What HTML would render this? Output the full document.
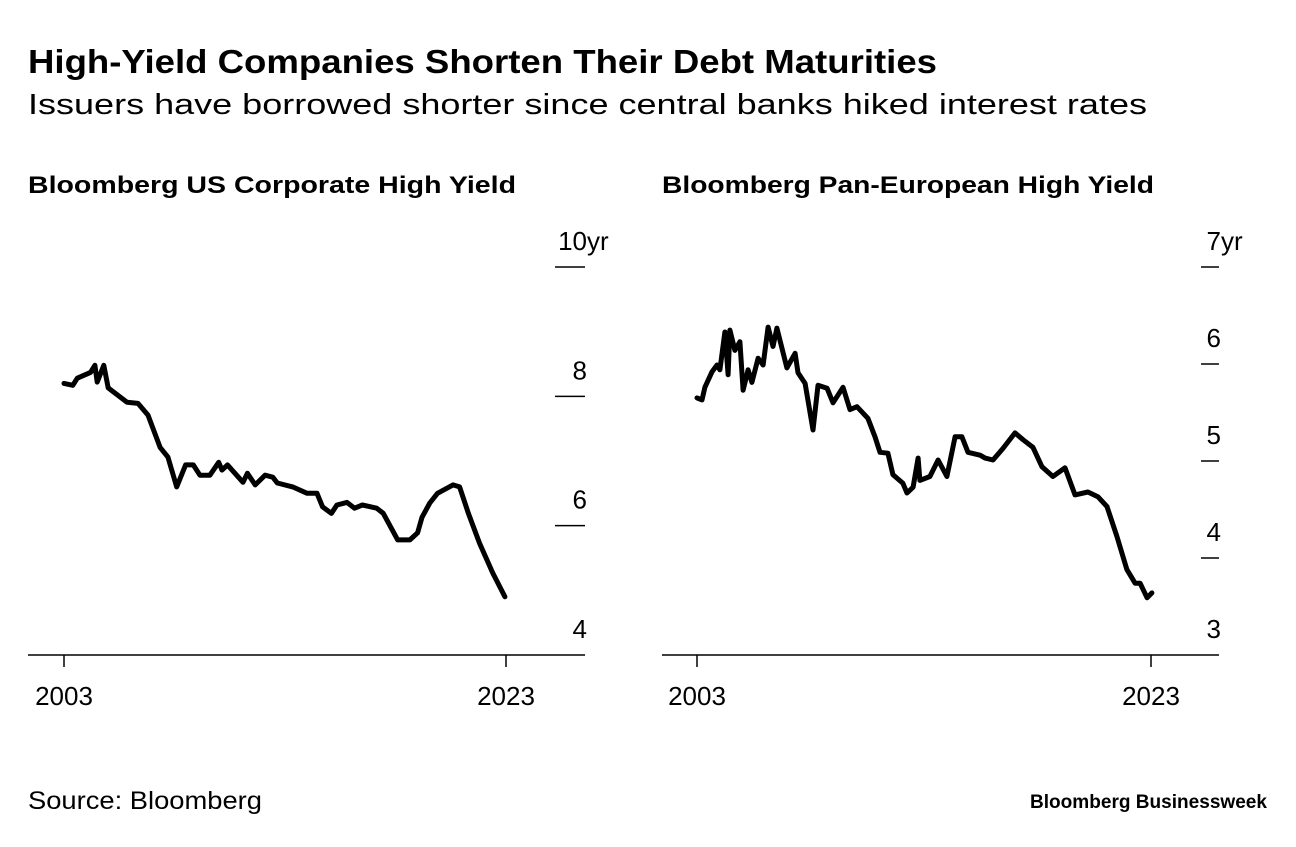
<!DOCTYPE html>
<html><head><meta charset="utf-8"><style>
body{margin:0;background:#fff;width:1296px;height:842px;overflow:hidden;font-family:"Liberation Sans",sans-serif;}
svg text{font-family:"Liberation Sans",sans-serif;}
</style></head><body>
<svg width="1296" height="842">
<text x="28" y="73" font-size="33" font-weight="bold" textLength="909" lengthAdjust="spacingAndGlyphs">High-Yield Companies Shorten Their Debt Maturities</text>
<text x="28" y="114" font-size="29" textLength="1119" lengthAdjust="spacingAndGlyphs">Issuers have borrowed shorter since central banks hiked interest rates</text>
<text x="28" y="193" font-size="24" font-weight="bold" textLength="488" lengthAdjust="spacingAndGlyphs">Bloomberg US Corporate High Yield</text>
<text x="662" y="193" font-size="24" font-weight="bold" textLength="492" lengthAdjust="spacingAndGlyphs">Bloomberg Pan-European High Yield</text>
<g id="left"></g>
<g id="right"></g>
<text x="28" y="809" font-size="25" textLength="234" lengthAdjust="spacingAndGlyphs">Source: Bloomberg</text>
<text x="1267" y="808" font-size="19" font-weight="bold" text-anchor="end" textLength="237" lengthAdjust="spacingAndGlyphs">Bloomberg Businessweek</text>
</svg>
<script>
const usYears=[2003,2003.4,2003.6,2004.2,2004.4,2004.5,2004.8,2005.0,2005.85,2006.35,2006.8,2007.35,2007.7,2008.1,2008.5,2008.85,2009.15,2009.6,2010.0,2010.15,2010.4,2011.1,2011.3,2011.65,2012.1,2012.45,2012.65,2013.35,2014.0,2014.45,2014.7,2015.1,2015.35,2015.8,2016.15,2016.5,2017.15,2017.45,2018.1,2018.65,2019.0,2019.2,2019.55,2019.9,2020.6,2020.9,2021.3,2021.8,2022.4,2022.95];
const usValues=[8.20,8.17,8.28,8.37,8.48,8.22,8.48,8.13,7.91,7.89,7.71,7.21,7.06,6.60,6.94,6.94,6.78,6.78,6.98,6.86,6.94,6.67,6.81,6.63,6.78,6.75,6.66,6.60,6.50,6.50,6.29,6.19,6.32,6.36,6.27,6.32,6.27,6.19,5.78,5.78,5.89,6.13,6.35,6.50,6.63,6.60,6.19,5.73,5.27,4.90];
const usTicks=[4,6,8,10];
const usTickLabels=["4","6","8","10"];
const euYears=[2003.0,2003.22,2003.35,2003.66,2003.88,2004.01,2004.23,2004.37,2004.45,2004.67,2004.89,2005.03,2005.25,2005.42,2005.69,2005.91,2006.13,2006.35,2006.52,2006.96,2007.32,2007.45,2007.76,2008.11,2008.33,2008.73,2008.99,2009.43,2009.74,2010.05,2010.53,2010.84,2011.06,2011.41,2011.63,2012.07,2012.25,2012.52,2012.74,2012.82,2013.26,2013.62,2014.01,2014.37,2014.67,2014.94,2015.47,2015.69,2016.04,2016.48,2017.01,2017.36,2017.80,2018.20,2018.68,2019.21,2019.65,2020.22,2020.67,2021.06,2021.5,2021.94,2022.3,2022.52,2022.83,2023.04];
const euValues=[5.65,5.63,5.76,5.92,5.99,5.94,6.33,5.89,6.35,6.14,6.23,5.73,5.94,5.81,6.06,5.99,6.38,6.18,6.37,5.96,6.11,5.91,5.80,5.32,5.78,5.75,5.60,5.76,5.53,5.56,5.44,5.25,5.09,5.08,4.86,4.77,4.67,4.73,5.03,4.80,4.84,5.01,4.84,5.25,5.25,5.09,5.06,5.03,5.01,5.13,5.29,5.22,5.14,4.94,4.84,4.93,4.65,4.68,4.63,4.53,4.22,3.88,3.74,3.74,3.59,3.64];
const euTicks=[3,4,5,6,7];
const euTickLabels=["3","4","5","6","7"];
const xTickYears=[2003,2023];
const NS="http://www.w3.org/2000/svg";
function mk(parent,tag,attrs){const e=document.createElementNS(NS,tag);for(const k in attrs)e.setAttribute(k,attrs[k]);parent.appendChild(e);return e;}
function panel(gid,cfg,years,values,ticks,labels){
  const g=document.getElementById(gid);
  const xs=y=>cfg.x0+(y-2003)*(cfg.x1-cfg.x0)/20;
  const ys=v=>655-(v-cfg.vmin)*(655-267)/(cfg.vmax-cfg.vmin);
  const ax=mk(g,'line',{x1:cfg.axL,x2:cfg.axR,y1:655,y2:655,stroke:'#000','stroke-width':1.5});
  
  
  ticks.forEach((t,i)=>{
    if(t!==cfg.vmin){
      const l=mk(g,'line',{x1:cfg.axR-(cfg.tickLen),x2:cfg.axR,y1:ys(t),y2:ys(t),stroke:'#000','stroke-width':1.5});
      
      
    }
    const tx=mk(g,'text',{x:cfg.axR+2,y:ys(t)-17,'font-size':26,'text-anchor':'end'});
    tx.textContent=labels[i];
    
    
    if(i===ticks.length-1){
      const u=mk(g,'text',{x:cfg.axR+2,y:ys(t)-17,'font-size':26});
      u.textContent='yr';
      
      
    }
  });
  xTickYears.forEach(yr=>{
    const l=mk(g,'line',{x1:xs(yr),x2:xs(yr),y1:655,y2:667,stroke:'#000','stroke-width':1.5});
    
    
    const tx=mk(g,'text',{x:xs(yr),y:705,'font-size':26,'text-anchor':'middle'});
    tx.textContent=String(yr);
    
    
  });
  const d=years.map((y,i)=>(i?'L':'M')+xs(y).toFixed(1)+','+ys(values[i]).toFixed(1)).join(' ');
  const p=mk(g,'path',{d:d,fill:'none',stroke:'#000','stroke-width':5,'stroke-linejoin':'round','stroke-linecap':'round'});
  
  
}
panel('left',{x0:64,x1:506,vmin:4,vmax:10,axL:28,axR:585,tickLen:30},usYears,usValues,usTicks,usTickLabels);
panel('right',{x0:697,x1:1151,vmin:3,vmax:7,axL:662,axR:1219,tickLen:18},euYears,euValues,euTicks,euTickLabels);
</script>
</body></html>
